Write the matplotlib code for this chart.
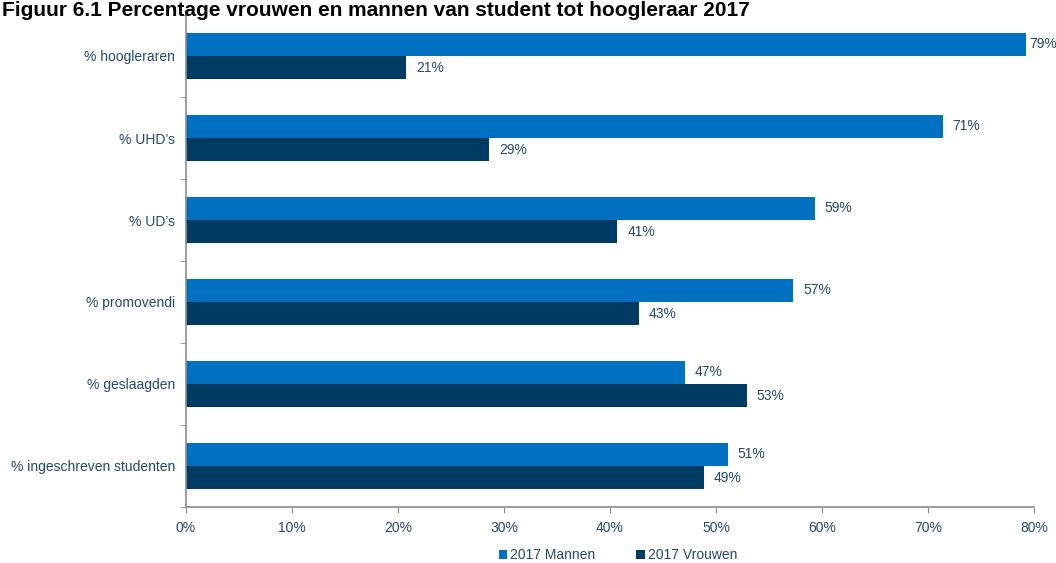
import numpy as np
import matplotlib.pyplot as plt
from matplotlib.ticker import FuncFormatter

plt.rcParams["font.family"] = ["Liberation Sans", "DejaVu Sans"]

categories = ["% hoogleraren", "% UHD's", "% UD's", "% promovendi",
              "% geslaagden", "% ingeschreven studenten"]
mannen = [79.2, 71.4, 59.3, 57.3, 47.1, 51.1]
vrouwen = [20.8, 28.6, 40.7, 42.7, 52.9, 48.9]
series_names = ["2017 Mannen", "2017 Vrouwen"]
title = "Figuur 6.1 Percentage vrouwen en mannen van student tot hoogleraar 2017"

c_man = "#0070C0"
c_vrouw = "#003B64"
c_text = "#24496E"
c_axis = "#8C8C8C"

fig = plt.figure(figsize=(10.56, 5.63), dpi=100)
ax = fig.add_axes([186 / 1056, 1 - 507 / 563, (1034 - 186) / 1056, (507 - 15) / 563])

y = np.arange(len(categories))
h = 0.285
b1 = ax.barh(y - h / 2, mannen, height=h, color=c_man, label=series_names[0])
b2 = ax.barh(y + h / 2, vrouwen, height=h, color=c_vrouw, label=series_names[1])

for bars, vals in ((b1, mannen), (b2, vrouwen)):
    for bar, v in zip(bars, vals):
        # label near the right edge gets squeezed in, like the original
        off = 3 if v > 77 else 7
        ax.annotate(f"{v:.0f}%", (bar.get_width(), bar.get_y() + bar.get_height() / 2),
                    xytext=(off, 0), textcoords="offset points", va="center",
                    fontsize=10, color=c_text)

ax.set_xlim(0, 80)
ax.set_ylim(len(categories) - 0.5, -0.5)
ax.set_xticks(np.arange(0, 81, 10))
ax.xaxis.set_major_formatter(FuncFormatter(lambda v, p: f"{v:.0f}%"))
ax.set_yticks(y)
ax.set_yticklabels([c.replace("'", "\u2019") for c in categories])
ax.set_yticks(np.arange(-0.5, len(categories)), minor=True)
ax.tick_params(axis="y", which="major", length=0, pad=8, labelsize=10, labelcolor=c_text)
ax.tick_params(axis="y", which="minor", length=4, color=c_axis, direction="out")
ax.tick_params(axis="x", length=4, color=c_axis, labelsize=10, labelcolor=c_text, pad=6)

for s in ("top", "right"):
    ax.spines[s].set_visible(False)
for s in ("left", "bottom"):
    ax.spines[s].set_color(c_axis)
    ax.spines[s].set_linewidth(1.2)

fig.legend(handles=[b1, b2], loc="center", bbox_to_anchor=(0.585, 1 - 555 / 563),
           ncol=2, frameon=False, fontsize=10, handlelength=0.6, handleheight=0.6,
           handletextpad=0.2, columnspacing=3.0, labelcolor=c_text)

fig.text(2 / 1056, 1 - 16 / 563, title, fontsize=15, fontweight="bold",
         va="baseline", ha="left", color="black")

plt.savefig("out.png", dpi=100)
